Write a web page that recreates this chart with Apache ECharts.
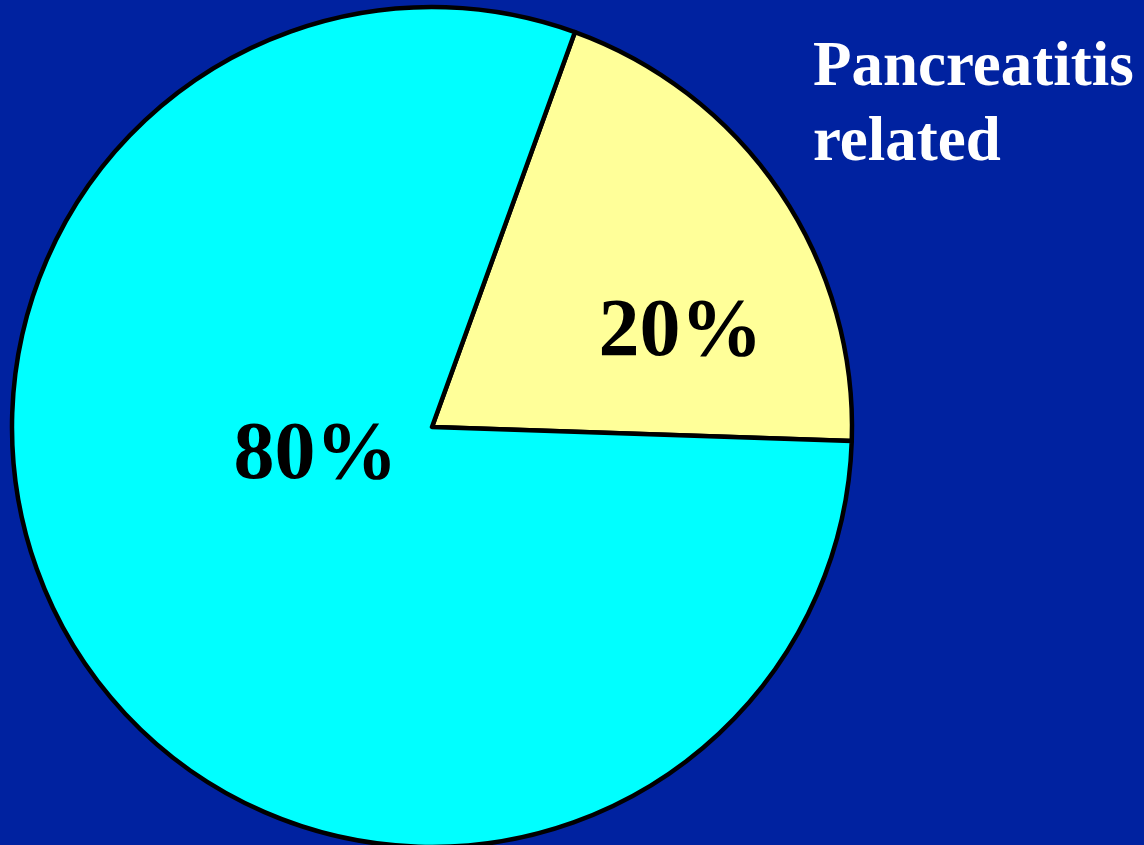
<!DOCTYPE html>
<html>
<head>
<meta charset="utf-8">
<script src="https://cdn.jsdelivr.net/npm/echarts@6/dist/echarts.min.js"></script>
<style>
  html, body { margin: 0; padding: 0; background: #0022A0; }
  #chart { width: 1144px; height: 845px; }
</style>
</head>
<body>
<div id="chart"></div>
<script>
  var categories = ['Pancreatitis related', 'Other']
  var values = [20, 80]
  var colors = ['#FFFF99', '#00FFFF']
  // label nudges from the default inside position
  var labelShift = [[72, 26], [60, -90]]

  var chart = echarts.init(document.getElementById('chart'))
  chart.setOption({
    backgroundColor: '#0022A0',
    animation: false,
    title: {
      text: 'Pancreatitis\nrelated',
      left: 808,
      top: 26,
      textStyle: {
        color: '#fff',
        fontFamily: 'Liberation Serif, Times New Roman, serif',
        fontWeight: 'bold',
        fontSize: 63,
        lineHeight: 75
      }
    },
    series: [{
      type: 'pie',
      center: [432, 427],
      radius: 420,
      startAngle: 70.1,
      clockwise: true,
      itemStyle: {
        borderColor: '#000',
        borderWidth: 4.5
      },
      label: {
        position: 'inside',
        formatter: '{c}%',
        color: '#000',
        fontFamily: 'Liberation Serif, Times New Roman, serif',
        fontWeight: 'bold',
        fontSize: 82
      },
      labelLayout: function (params) {
        var s = labelShift[params.dataIndex]
        return { dx: s[0], dy: s[1] }
      },
      emphasis: { disabled: true },
      data: categories.map(function (name, i) {
        return { name: name, value: values[i], itemStyle: { color: colors[i] } }
      })
    }]
  })
</script>
</body>
</html>
